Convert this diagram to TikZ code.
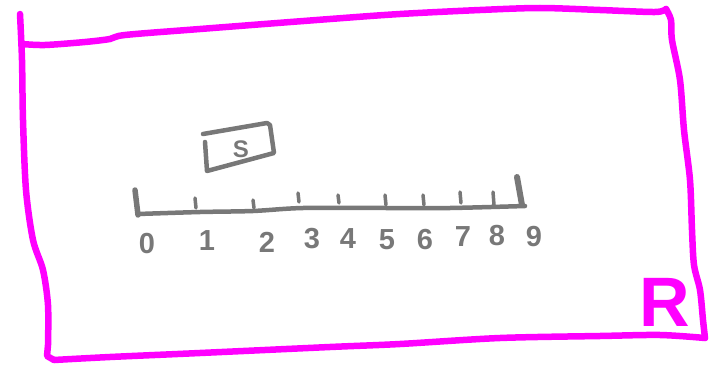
\documentclass[tikz,border=0pt]{standalone}
\usepackage{fontspec}
\setmainfont{Liberation Sans}
\definecolor{pen}{HTML}{FF00FF}
\definecolor{pencil}{HTML}{787878}
\begin{document}
\begin{tikzpicture}[x=1pt,y=-1pt,
  frame/.style={draw=pen,line width=6.5pt,line cap=round,line join=round},
  rule/.style={draw=pencil,line width=4.5pt,line cap=round,line join=round},
  digit/.style={text=pencil,font=\bfseries\fontsize{29}{29}\selectfont,inner sep=0pt},
  lab/.style={text=pencil,font=\bfseries\fontsize{24}{24}\selectfont,inner sep=0pt}]
\useasboundingbox (0,0) rectangle (723,369);
% outer frame
\draw[frame] plot[smooth,tension=0.5] coordinates {(20,14) (22,60) (23,120) (26,190) (33,240) (43,270) (48,305) (48,345)} -- (47,356) -- (54,360);
\draw[frame] plot[smooth,tension=0.5] coordinates {(22,44) (45,45) (85,42) (110,39) (125,35) (200,29) (330,19) (400,14) (480,10) (540,8) (600,10) (655,12) (666,9)};
\draw[frame] plot[smooth,tension=0.5] coordinates {(666,9) (671,20) (672,40) (680,80) (684,130) (690,180) (692,230) (694,265) (700,290) (703,320) (705,338)};
\draw[frame] plot[smooth,tension=0.5] coordinates {(54,360) (110,357) (200,353) (330,347) (400,344) (500,338) (600,336) (660,335) (705,338)};
% R
\node[text=pen,font=\bfseries\fontsize{70}{70}\selectfont,inner sep=0pt] (R) at (665,302) {R};
% S box
\draw[rule] (203,134) -- (267,123) -- (270,125) -- (274,153) -- (207,171) -- (205,142);
\node[lab] (S) at (241,149) {S};
% ruler
\draw[rule] plot[smooth,tension=0.5] coordinates {(138,214) (200,212) (253,211) (303,208) (387,208) (450,208) (525,206)};
\draw[rule,line width=5.5pt] (135,190) -- (138,215);
\draw[rule,line width=6pt] (517,177) -- (522,205);
\foreach \x/\t/\b in {195/198/208, 253/200/208, 298/193/202, 338/195/203, 385/195/205, 423/195/205, 460/192/203, 493/192/205}
  \draw[rule,line width=3.5pt] (\x,\t) -- (\x+1,\b);
% labels
\node[digit] (d0) at (147,244) {0};
\node[digit] (d1) at (207,241) {1};
\node[digit] (d2) at (267,242) {2};
\node[digit] (d3) at (312,239) {3};
\node[digit] (d4) at (348,239) {4};
\node[digit] (d5) at (387,240) {5};
\node[digit] (d6) at (425,240) {6};
\node[digit] (d7) at (463,237) {7};
\node[digit] (d8) at (497,236) {8};
\node[digit] (d9) at (534,237) {9};
\end{tikzpicture}
\end{document}
